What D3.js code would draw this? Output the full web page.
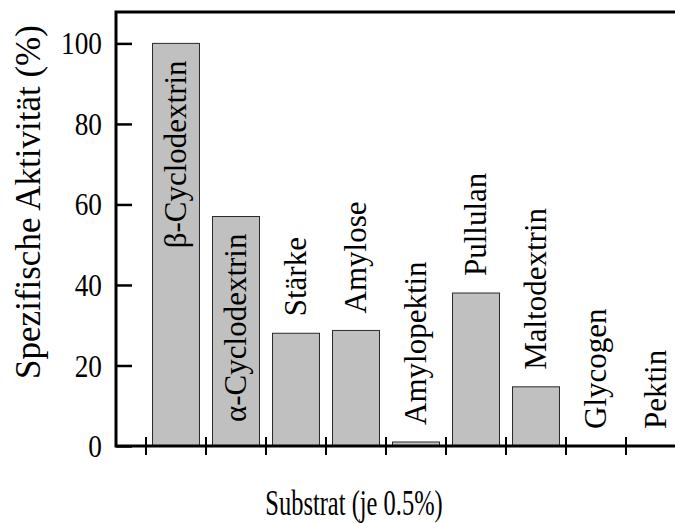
<!DOCTYPE html>
<html>
<head>
<meta charset="utf-8">
<script src="https://d3js.org/d3.v7.min.js"></script>
<style>
  body { margin: 0; background: #fff; }
  text { font-family: "Liberation Serif", "Times New Roman", serif; fill: #000; }
</style>
</head>
<body>
<div id="chart"></div>
<script>
// Data
const substrates = ["β-Cyclodextrin", "α-Cyclodextrin", "Stärke", "Amylose", "Amylopektin",
                    "Pullulan", "Maltodextrin", "Glycogen", "Pektin"];
const activity = [100, 57, 28, 28.7, 1, 38, 14.7, 0, 0];
const yTicks = [0, 20, 40, 60, 80, 100];

// Set dimensions (plot runs off the right edge, like the original)
const margin = {top: 12, left: 116},
    W = 675, H = 523,
    axisY = 446;

const svg = d3.select("#chart")
  .append("svg")
    .attr("width", W)
    .attr("height", H);

// Scales
const x = d3.scaleBand()
    .domain(substrates)
    .range([146, 686])
    .paddingInner(0.2167)
    .paddingOuter(0.1083);
const step = x.step();

const y = d3.scaleLinear()
    .domain([0, 107.8])
    .range([axisY, margin.top]);

// Bars
const data = substrates.map((s, i) => ({name: s, value: activity[i]}));
svg.selectAll("rect.bar")
  .data(data)
  .enter()
  .append("rect")
    .attr("class", "bar")
    .attr("x", d => x(d.name))
    .attr("y", d => y(d.value))
    .attr("width", x.bandwidth())
    .attr("height", d => axisY - y(d.value))
    .style("fill", "#c0c0c0")
    .style("stroke", "#2a2a2a")
    .style("stroke-width", 1);

// Bar labels: inside the tall bars, above the others
svg.selectAll("text.barlabel")
  .data(data)
  .enter()
  .append("text")
    .attr("class", "barlabel")
    .attr("transform", d => {
      const yy = d.value > 50 ? y(d.value) + 17 : y(d.value) - 17;
      return `translate(${x(d.name) + x.bandwidth() / 2},${yy}) rotate(-90)`;
    })
    .attr("dy", "0.33em")
    .attr("text-anchor", d => d.value > 50 ? "end" : "start")
    .style("font-size", "31px")
    .text(d => d.name);

// Y axis with inward ticks
const yAxis = svg.append("g")
    .attr("transform", `translate(${margin.left},0)`)
    .call(d3.axisLeft(y).tickValues(yTicks).tickSize(-16).tickPadding(14));
yAxis.attr("font-family", null);
yAxis.select(".domain").remove();
yAxis.selectAll(".tick line").style("stroke", "#000").style("stroke-width", 2.5);
yAxis.selectAll(".tick text")
    .attr("x", 0)
    .attr("dy", "0.34em")
    .attr("transform", "translate(-14,0) scale(0.88,1)")
    .style("font-size", "31px");

// X ticks at band boundaries, crossing the axis
svg.selectAll("line.xtick")
  .data(substrates)
  .enter()
  .append("line")
    .attr("class", "xtick")
    .attr("x1", d => x(d) - (step - x.bandwidth()) / 2)
    .attr("x2", d => x(d) - (step - x.bandwidth()) / 2)
    .attr("y1", axisY - 9)
    .attr("y2", axisY + 9)
    .style("stroke", "#000")
    .style("stroke-width", 2);

// Frame: left, top and bottom lines
const right = x.range()[1] + 30;
svg.append("path")
    .attr("d", `M${right},${margin.top}H${margin.left}V${axisY}H${right}`)
    .style("fill", "none")
    .style("stroke", "#000")
    .style("stroke-width", 3);

// Axis titles
svg.append("text")
    .attr("transform", `translate(28,202) rotate(-90)`)
    .attr("dy", "0.33em")
    .attr("text-anchor", "middle")
    .style("font-size", "35px")
    .text("Spezifische Aktivität (%)");

svg.append("text")
    .attr("transform", `translate(354,515) scale(0.68,1)`)
    .attr("text-anchor", "middle")
    .style("font-size", "36px")
    .text("Substrat (je 0.5%)");
</script>
</body>
</html>
